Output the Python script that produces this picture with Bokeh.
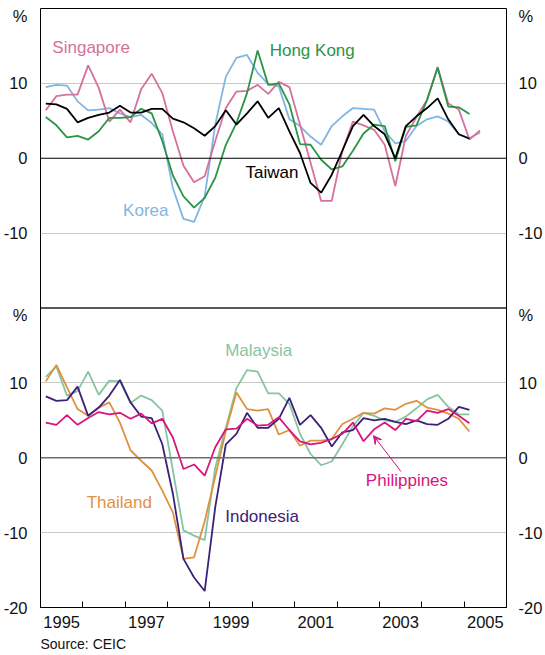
from bokeh.plotting import figure
from bokeh.models import (Range1d, LinearAxis, FixedTicker, CustomJSTickFormatter,
                          Span, Label, Arrow, VeeHead, Title)
from bokeh.embed import file_html
from bokeh.resources import INLINE

# ---------------- data (year-ended % change, quarterly from 1995 Q1) ----------------
start_year = 1995

singapore = [6.4, 8.3, 8.5, 8.5, 12.4, 9.4, 4.9, 6.5, 4.8, 9.2, 11.3, 8.7,
             3.6, -1.0, -3.2, -2.4, 2.3, 6.7, 8.9, 9.0, 9.8, 8.6, 10.2, 9.5,
             4.5, -0.6, -5.7, -5.7, 1.0, 4.9, 4.4, 3.8, 1.8, -3.7, 3.0, 5.5,
             7.8, 12.2, 7.3, 6.5, 2.5, 3.7]
korea = [9.5, 9.8, 9.7, 7.6, 6.4, 6.5, 6.7, 6.0, 5.5, 5.8, 4.7, 3.2,
         -4.0, -8.1, -8.5, -5.1, 4.5, 10.9, 13.4, 13.8, 11.4, 9.9, 9.6, 5.2,
         4.3, 2.9, 1.8, 4.3, 5.6, 6.7, 6.6, 6.5, 3.6, 2.0, 2.3, 4.3,
         5.2, 5.6, 4.9, 3.2, 2.7, 3.4]
taiwan = [7.3, 7.2, 6.6, 4.8, 5.4, 5.8, 6.1, 7.0, 6.1, 6.1, 6.6, 6.6,
          5.3, 4.8, 4.0, 3.0, 4.3, 6.4, 4.5, 6.0, 7.6, 5.4, 6.7, 3.6,
          0.7, -3.3, -4.6, -2.2, 1.0, 4.3, 5.8, 4.3, 3.2, 0.0, 4.3, 5.6,
          6.7, 8.0, 5.2, 3.2, 2.6]
hong_kong = [5.5, 4.4, 2.8, 3.0, 2.5, 3.6, 5.4, 5.4, 5.5, 6.6, 6.0, 2.3,
             -2.3, -5.1, -6.6, -5.3, -2.6, 1.8, 4.7, 8.7, 14.4, 9.8, 10.0, 7.2,
             1.9, 1.8, -0.2, -1.5, -1.1, 1.0, 3.3, 4.5, 4.3, -0.4, 4.2, 4.4,
             7.8, 12.1, 6.9, 6.8, 5.9]

malaysia = [10.8, 12.2, 8.3, 8.9, 11.5, 8.4, 10.3, 10.2, 7.3, 8.3, 7.7, 6.3,
            -1.7, -9.7, -10.4, -11.0, -1.3, 4.0, 9.3, 11.7, 11.5, 8.6, 8.6, 7.2,
            3.2, 0.5, -1.0, -0.5, 1.8, 4.2, 6.0, 5.6, 5.0, 4.8, 5.5, 6.6,
            7.8, 8.4, 6.8, 5.8, 5.8]
thailand = [10.2, 12.4, 9.4, 6.5, 5.6, 6.7, 7.4, 4.7, 1.0, -0.4, -1.7, -4.4,
            -7.3, -13.5, -13.3, -8.5, -2.5, 3.6, 8.7, 6.5, 6.3, 6.5, 3.1, 3.7,
            1.6, 2.3, 2.3, 2.5, 4.5, 5.2, 6.0, 5.9, 6.6, 6.4, 7.2, 7.6,
            6.7, 6.4, 5.9, 5.2, 3.5]
indonesia = [8.2, 7.6, 7.7, 9.5, 5.6, 6.7, 8.3, 10.4, 7.4, 5.5, 5.3, 1.8,
             -4.8, -13.5, -16.0, -17.8, -6.6, 1.8, 3.2, 6.0, 4.0, 4.0, 5.2, 8.0,
             4.4, 5.7, 4.0, 1.5, 3.4, 3.7, 5.3, 5.0, 5.2, 4.8, 4.5, 5.0,
             4.5, 4.4, 5.2, 6.8, 6.4]
philippines = [4.7, 4.4, 5.7, 4.4, 5.3, 6.1, 5.8, 6.0, 5.2, 5.9, 4.6, 5.2,
               2.7, -1.5, -0.9, -2.4, 1.4, 3.8, 3.9, 5.2, 4.3, 4.4, 5.4, 3.7,
               2.2, 1.8, 2.0, 2.5, 3.2, 4.7, 2.2, 3.8, 4.7, 3.7, 5.2, 4.9,
               6.3, 6.0, 6.5, 5.6, 4.6]

year_labels = ["1995", "1997", "1999", "2001", "2003", "2005"]

# colours
C_SING = "#d6709c"
C_KOR = "#82b6e2"
C_HK = "#2b9447"
C_TWN = "#000000"
C_MAL = "#87c59f"
C_THA = "#e0913f"
C_IDN = "#3c2178"
C_PHL = "#d8157d"

FONT = "Liberation Sans"


def quarter_x(n):
    """Mid-quarter positions in decimal years, starting at start_year Q1."""
    return [start_year + (k + 0.5) / 4 for k in range(n)]


# ---------------- figure ----------------
p = figure(width=545, height=655,
           x_range=Range1d(1995, 2006), y_range=Range1d(-20, 60),
           output_backend="svg", toolbar_location=None,
           min_border_left=40, min_border_right=31,
           min_border_top=8, min_border_bottom=48)
p.extra_y_ranges = {"top": Range1d(-60, 20)}

p.outline_line_color = "black"
p.outline_line_width = 1
p.background_fill_color = "white"
p.border_fill_color = "white"

# grids
p.xgrid.visible = False
p.ygrid.ticker = FixedTicker(ticks=[-10, 10, 30, 50])
p.ygrid.grid_line_color = "#c8c8c8"
p.ygrid.grid_line_width = 1

# y axes (left + right)
ytick_code = """
if (Math.abs(tick - 19.0) < 0.05 || Math.abs(tick - 59.0) < 0.05) { return '%'; }
const v = tick > 20 ? tick - 40 : tick;
return String(Math.round(v));
"""
yticks = [-20, -10, 0, 10, 19.0, 30, 40, 50, 59.0]


def style_y(ax, standoff):
    ax.ticker = FixedTicker(ticks=yticks)
    ax.formatter = CustomJSTickFormatter(code=ytick_code)
    ax.axis_line_color = None
    ax.major_tick_line_color = None
    ax.minor_tick_line_color = None
    ax.major_label_standoff = standoff
    ax.major_label_text_font = FONT
    ax.major_label_text_font_size = "16.5px"
    ax.major_label_text_color = "#111111"


style_y(p.yaxis[0], 7)
right_axis = LinearAxis()
style_y(right_axis, 6)
p.add_layout(right_axis, "right")

# x axis
xa = p.xaxis[0]
xa.ticker = FixedTicker(ticks=[int(y) + 0.5 for y in year_labels],
                        minor_ticks=list(range(1995, 2007)))
xa.formatter = CustomJSTickFormatter(code="return String(Math.floor(tick));")
xa.major_tick_line_color = None
xa.minor_tick_in = 6
xa.minor_tick_out = 0
xa.minor_tick_line_color = "black"
xa.axis_line_color = "black"
xa.major_label_standoff = 2
xa.major_label_text_font = FONT
xa.major_label_text_font_size = "16.5px"
xa.major_label_text_color = "#111111"

# source note below the axis
p.add_layout(Title(text="Source: CEIC", align="left", text_font=FONT,
                   text_font_size="14px", text_font_style="normal",
                   text_color="#111111", standoff=6, offset=0), "below")

# zero lines & panel divider
p.add_layout(Span(location=0, dimension="width", y_range_name="top",
                  line_color="black", line_width=1))
p.add_layout(Span(location=0, dimension="width",
                  line_color="#6e6e6e", line_width=1.6))
p.add_layout(Span(location=20, dimension="width",
                  line_color="#222222", line_width=1.5))

LW = 1.8
# top panel
p.line(quarter_x(len(korea)), korea, line_color=C_KOR, line_width=LW, y_range_name="top")
p.line(quarter_x(len(singapore)), singapore, line_color=C_SING, line_width=LW, y_range_name="top")
p.line(quarter_x(len(hong_kong)), hong_kong, line_color=C_HK, line_width=LW, y_range_name="top")
p.line(quarter_x(len(taiwan)), taiwan, line_color=C_TWN, line_width=LW, y_range_name="top")
# bottom panel
p.line(quarter_x(len(malaysia)), malaysia, line_color=C_MAL, line_width=LW)
p.line(quarter_x(len(thailand)), thailand, line_color=C_THA, line_width=LW)
p.line(quarter_x(len(indonesia)), indonesia, line_color=C_IDN, line_width=LW)
p.line(quarter_x(len(philippines)), philippines, line_color=C_PHL, line_width=LW)


def name(x, y, text, color, rng="default"):
    p.add_layout(Label(x=x, y=y, text=text, y_range_name=rng,
                       text_color=color, text_font=FONT, text_font_size="17px",
                       text_align="left", text_baseline="middle"))


name(1995.28, 14.8, "Singapore", C_SING, "top")
name(2000.41, 14.4, "Hong Kong", C_HK, "top")
name(1999.84, -1.9, "Taiwan", C_TWN, "top")
name(1996.95, -7.0, "Korea", C_KOR, "top")
name(1999.36, 14.3, "Malaysia", C_MAL)
name(1996.09, -6.0, "Thailand", C_THA)
name(1999.36, -7.85, "Indonesia", C_IDN)
name(2002.68, -3.04, "Philippines", C_PHL)

p.add_layout(Arrow(end=VeeHead(size=8, line_color=C_PHL, fill_color=C_PHL, line_width=1),
                   x_start=2003.51, y_start=-1.84, x_end=2002.86, y_end=2.95,
                   line_color=C_PHL, line_width=1))

open("out.html", "w").write(file_html(p, INLINE))
